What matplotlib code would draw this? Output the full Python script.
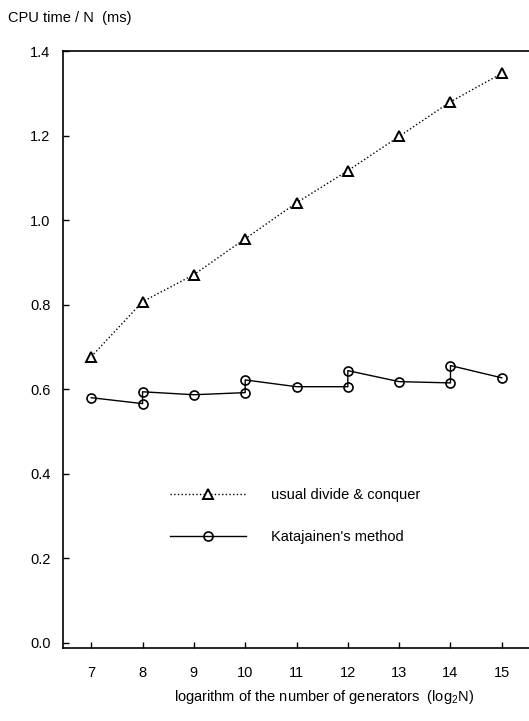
import numpy as np
import matplotlib
matplotlib.use("Agg")
import matplotlib.pyplot as plt

plt.rcParams["font.family"] = ["Liberation Sans", "DejaVu Sans"]

# usual divide & conquer (one point per log2 N)
dc_x = [7, 8, 9, 10, 11, 12, 13, 14, 15]
dc_y = [0.677, 0.807, 0.871, 0.956, 1.041, 1.117, 1.198, 1.280, 1.347]

# Katajainen's method (two measurements at some sizes, joined in order)
kat_x = [7, 8, 8, 9, 10, 10, 11, 12, 12, 13, 14, 14, 15]
kat_y = [0.580, 0.566, 0.594, 0.587, 0.592, 0.622, 0.606,
         0.606, 0.644, 0.618, 0.615, 0.656, 0.627]

x_ticks = [7, 8, 9, 10, 11, 12, 13, 14, 15]
y_ticks = [0.0, 0.2, 0.4, 0.6, 0.8, 1.0, 1.2, 1.4]

fig = plt.figure(figsize=(5.29, 7.21), dpi=100)
ax = fig.add_axes([63 / 529, 1 - 648 / 721, 1 - 63 / 529, (648 - 51) / 721])

ax.plot(dc_x, dc_y, linestyle=":", color="black", linewidth=1.0,
        marker="^", markersize=6.5, markerfacecolor="white",
        markeredgecolor="black", markeredgewidth=1.4,
        label="usual divide & conquer")
ax.plot(kat_x, kat_y, linestyle="-", color="black", linewidth=1.0,
        marker="o", markersize=6.5, markerfacecolor="none",
        markeredgecolor="black", markeredgewidth=1.2,
        label="Katajainen's method")

ax.set_xlim(6.45, 15.53)
ax.set_ylim(-0.012, 1.4)
ax.set_xticks(x_ticks)
ax.set_xticklabels([str(v) for v in x_ticks])
ax.set_yticks(y_ticks)
ax.set_yticklabels(["%.1f" % v for v in y_ticks])
ax.tick_params(axis="x", direction="in", length=4.5, width=1.0, pad=13, labelsize=10.5)
ax.tick_params(axis="y", direction="in", length=4, width=1.0, pad=9, labelsize=10.5)
ax.spines["right"].set_visible(False)
for s in ["left", "top", "bottom"]:
    ax.spines[s].set_linewidth(1.2)

leg = ax.legend(loc="upper left", bbox_to_anchor=(0.23, 0.268), frameon=False,
                handlelength=5.2, handletextpad=1.7, labelspacing=1.9,
                borderpad=0, borderaxespad=0, fontsize=10.5)

fig.text(8 / 529, 1 - 18 / 721, "CPU time / N  (ms)", ha="left", va="center", fontsize=10.5)
fig.text(324 / 529, 1 - 697 / 721, r"logarithm of the number of generators  (log$_\mathregular{2}$N)",
         ha="center", va="center", fontsize=10.5)

plt.savefig("out.png", dpi=100)
plt.close()
